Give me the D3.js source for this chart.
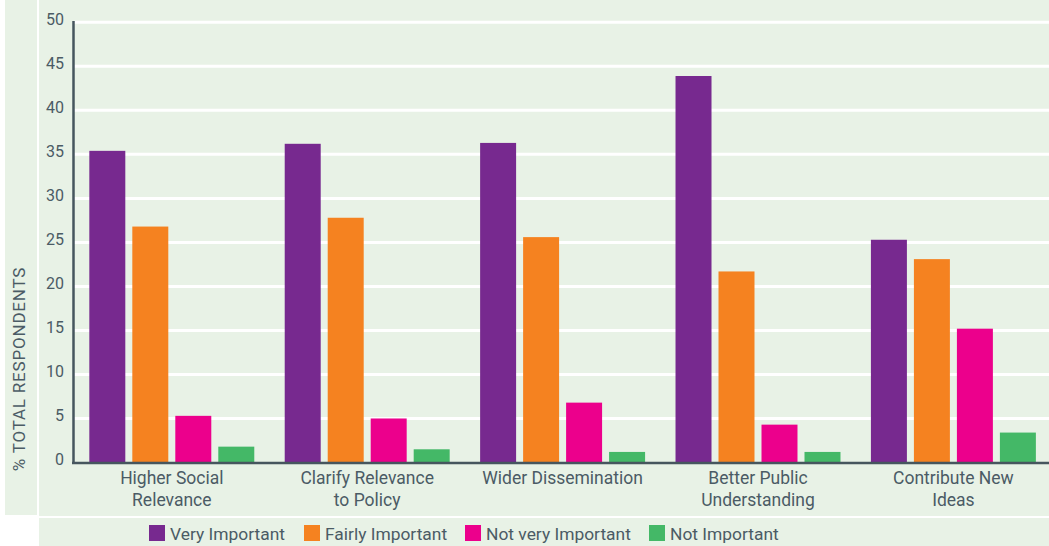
<!DOCTYPE html>
<html><head><meta charset="utf-8">
<script src="https://cdn.jsdelivr.net/npm/d3@7"></script>
<style>
html,body{margin:0;padding:0;background:#fff;}
svg{display:block;font-family:Roboto,"Open Sans",sans-serif;}
</style></head>
<body>
<svg id="chart" width="1049" height="546"></svg>
<script>
const categories = [["Higher Social","Relevance"],["Clarify Relevance","to Policy"],["Wider Dissemination"],["Better Public","Understanding"],["Contribute New","Ideas"]];
const series = ["Very Important","Fairly Important","Not very Important","Not Important"];
const veryImportant = [35.4, 36.2, 36.3, 43.9, 25.3];
const fairlyImportant = [26.8, 27.8, 25.6, 21.7, 23.1];
const notVeryImportant = [5.3, 5.0, 6.8, 4.3, 15.2];
const notImportant = [1.8, 1.5, 1.2, 1.2, 3.4];
const yTicks = [0,5,10,15,20,25,30,35,40,45,50];
const colors = ["#77298f","#f58220","#ec008c","#44b867"];
const yTitle = "% TOTAL RESPONDENTS";

const values = [veryImportant, fairlyImportant, notVeryImportant, notImportant];
const svg = d3.select("#chart");
const bg = "#e8f2e6", txt = "#4b5b65", axisC = "#46565e";

// panels
svg.append("rect").attr("x",5).attr("y",0).attr("width",32).attr("height",515).attr("fill",bg);
svg.append("rect").attr("x",39).attr("y",0).attr("width",1010).attr("height",516).attr("fill",bg);
svg.append("rect").attr("x",39).attr("y",518).attr("width",1010).attr("height",28).attr("fill",bg);

const y = d3.scaleLinear().domain([0,50]).range([462.5,22.3]);
const x0 = d3.scaleBand().domain(d3.range(categories.length)).range([74.1,1051.1]);
const x1 = d3.scaleBand().domain(series).range([0,x0.bandwidth()]).paddingInner(0.163).paddingOuter(0.354);

// grid
svg.append("g").selectAll("line").data(yTicks.filter(t=>t>0)).join("line")
  .attr("x1",74).attr("x2",1049).attr("y1",d=>y(d)).attr("y2",d=>y(d))
  .attr("stroke","#fff").attr("stroke-width",3);

// tick labels
svg.append("g").selectAll("text").data(yTicks).join("text")
  .attr("x",64).attr("y",d=>y(d)-2).attr("text-anchor","end").attr("dominant-baseline","middle")
  .attr("fill",txt).attr("font-size",16).text(d=>d);

// bars
const g = svg.append("g");
categories.forEach((c,i)=>{
  series.forEach((s,j)=>{
    g.append("rect").attr("x",x0(i)+x1(s)).attr("width",x1.bandwidth())
      .attr("y",y(values[j][i])).attr("height",y(0)-y(values[j][i])).attr("fill",colors[j]);
  });
});

// axes lines
svg.append("line").attr("x1",73.5).attr("x2",73.5).attr("y1",21).attr("y2",464).attr("stroke",axisC).attr("stroke-width",2.5);
svg.append("line").attr("x1",72).attr("x2",1049).attr("y1",463).attr("y2",463).attr("stroke",axisC).attr("stroke-width",2.5);

// category labels
categories.forEach((c,i)=>{
  const t = svg.append("text").attr("x",x0(i)+x0.bandwidth()/2).attr("y",484)
    .attr("text-anchor","middle").attr("fill",txt).attr("font-size",17.5);
  c.forEach((line,k)=>t.append("tspan").attr("x",x0(i)+x0.bandwidth()/2).attr("dy",k===0?0:22).text(line));
});

// y title
svg.append("text").attr("transform","translate(25,369) rotate(-90)").attr("text-anchor","middle")
  .attr("fill",txt).attr("font-size",17).attr("letter-spacing",0.8).text(yTitle);

// legend
const legX = [149,304,465,649];
const lg = svg.append("g");
series.forEach((s,j)=>{
  lg.append("rect").attr("x",legX[j]).attr("y",525).attr("width",16).attr("height",16).attr("fill",colors[j]);
  lg.append("text").attr("x",legX[j]+21).attr("y",540).attr("fill",txt).attr("font-size",17.4).text(s);
});
</script>
</body></html>
